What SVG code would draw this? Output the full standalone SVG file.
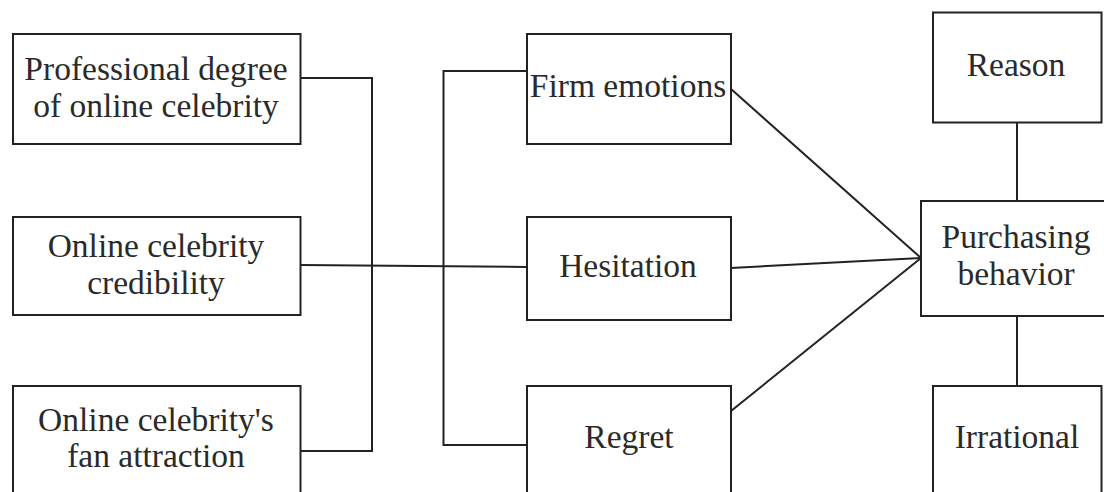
<svg xmlns="http://www.w3.org/2000/svg" width="1104" height="492" viewBox="0 0 1104 492">
  <style>
    .box { fill: #ffffff; stroke: #222222; stroke-width: 2; }
    .lbl { font-family: "Liberation Serif", "Times New Roman", serif; font-size: 33.5px; fill: #2a2a2a; text-anchor: middle; }
    .wire { fill: none; stroke: #222222; stroke-width: 2; }
  </style>
  <rect width="1104" height="492" fill="#ffffff"/>

  <!-- connectors -->
  <g id="connectors">
    <!-- left bracket: three factors joined into one bus -->
    <polyline class="wire" points="300.5,78 372,78 372,451 300.5,451"/>
    <line class="wire" x1="300.5" y1="265" x2="527" y2="267"/>
    <!-- second bracket feeding the emotional states -->
    <polyline class="wire" points="527,71 443.5,71 443.5,445 527,445"/>
    <!-- emotional states converge on purchasing behavior -->
    <line class="wire" x1="731" y1="89" x2="921" y2="258"/>
    <line class="wire" x1="731" y1="268" x2="921" y2="258"/>
    <line class="wire" x1="731" y1="411" x2="921" y2="258"/>
    <!-- reason / irrational links -->
    <line class="wire" x1="1017" y1="122" x2="1017" y2="201"/>
    <line class="wire" x1="1017" y1="316" x2="1017" y2="386"/>
  </g>

  <g id="node-professional">
    <rect class="box" x="13" y="34" width="287.5" height="110"/>
    <text class="lbl" x="156" y="80">Professional degree</text>
    <text class="lbl" x="156" y="117">of online celebrity</text>
  </g>

  <g id="node-credibility">
    <rect class="box" x="13" y="217" width="287.5" height="98"/>
    <text class="lbl" x="156" y="257">Online celebrity</text>
    <text class="lbl" x="156" y="294">credibility</text>
  </g>

  <g id="node-fan-attraction">
    <rect class="box" x="13" y="386" width="287.5" height="130"/>
    <text class="lbl" x="156" y="431">Online celebrity's</text>
    <text class="lbl" x="156" y="467">fan attraction</text>
  </g>

  <g id="node-firm-emotions">
    <rect class="box" x="527" y="34" width="204" height="110"/>
    <text class="lbl" x="628" y="97">Firm emotions</text>
  </g>

  <g id="node-hesitation">
    <rect class="box" x="527" y="217" width="204" height="103"/>
    <text class="lbl" x="628" y="277">Hesitation</text>
  </g>

  <g id="node-regret">
    <rect class="box" x="527" y="386" width="204" height="130"/>
    <text class="lbl" x="629" y="448">Regret</text>
  </g>

  <g id="node-reason">
    <rect class="box" x="933" y="12.5" width="168.5" height="110"/>
    <text class="lbl" x="1016" y="76">Reason</text>
  </g>

  <g id="node-purchasing">
    <rect class="box" x="921" y="201" width="192" height="115"/>
    <text class="lbl" x="1016" y="248">Purchasing</text>
    <text class="lbl" x="1016" y="285">behavior</text>
  </g>

  <g id="node-irrational">
    <rect class="box" x="933" y="386" width="168.5" height="130"/>
    <text class="lbl" x="1017" y="448">Irrational</text>
  </g>
</svg>
